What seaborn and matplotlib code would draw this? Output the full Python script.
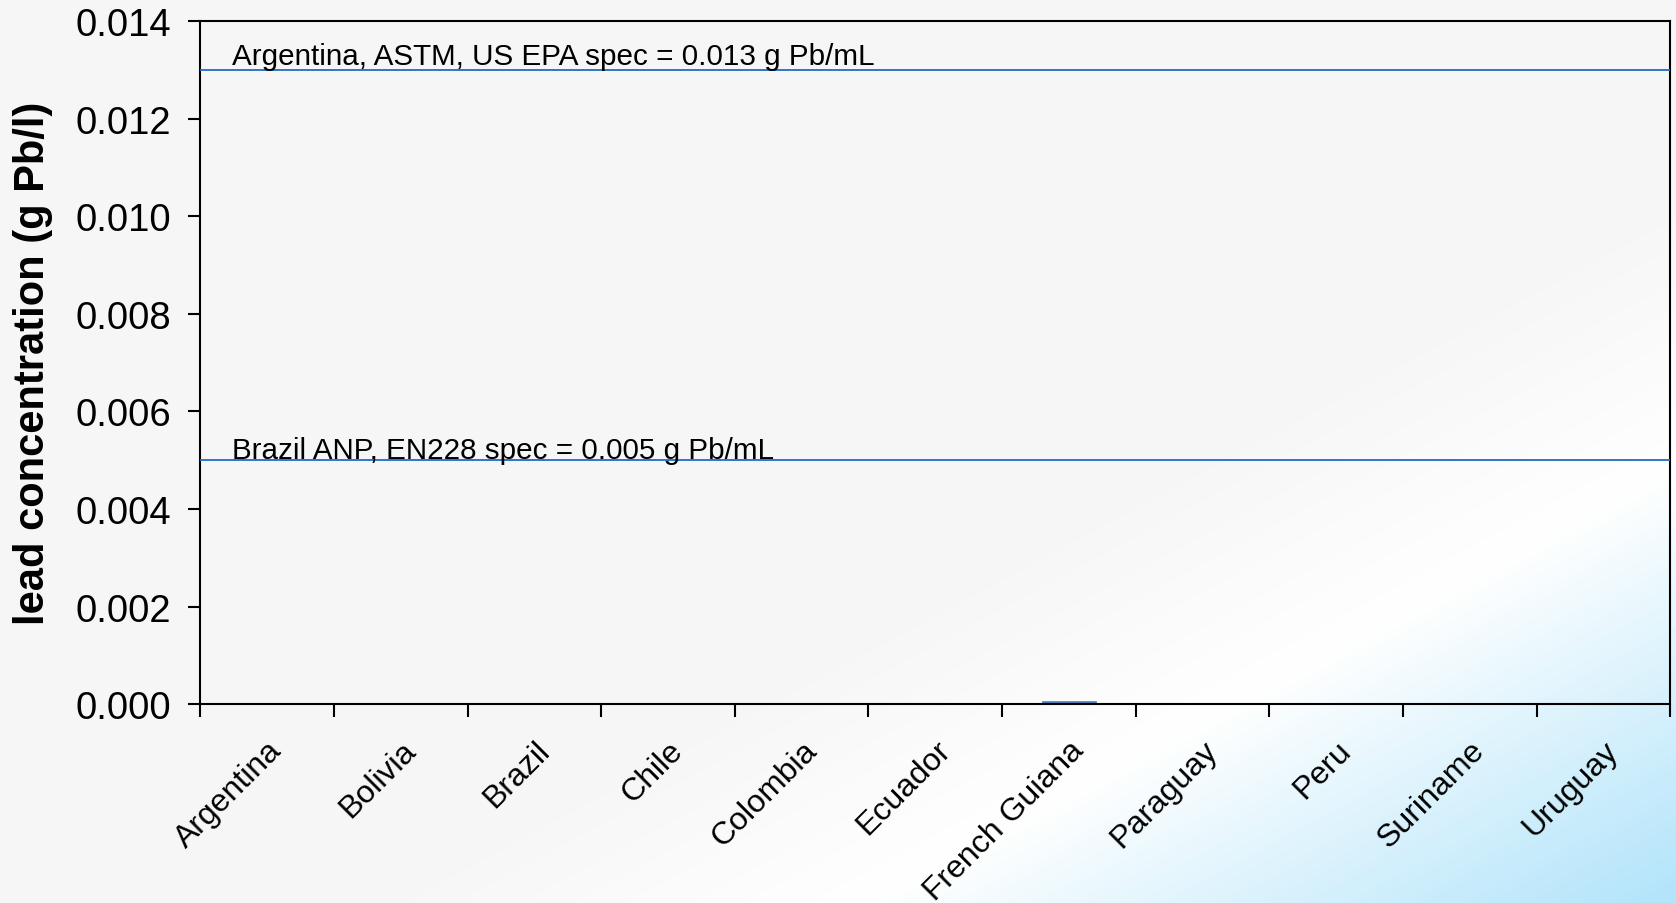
# Lead concentration in gasoline - South America
import numpy as np
import pandas as pd
import matplotlib
matplotlib.use("Agg")
import matplotlib.pyplot as plt
from matplotlib.colors import LinearSegmentedColormap
import seaborn as sns

# ---- data ----
countries = ["Argentina", "Bolivia", "Brazil", "Chile", "Colombia", "Ecuador",
             "French Guiana", "Paraguay", "Peru", "Suriname", "Uruguay"]
lead_values = [0.0, 0.0, 0.0, 0.0, 0.0, 0.0, 0.00006, 0.0, 0.0, 0.0, 0.0]

spec_levels = [0.013, 0.005]
spec_labels = ["Argentina, ASTM, US EPA spec = 0.013 g Pb/mL",
               "Brazil ANP, EN228 spec = 0.005 g Pb/mL"]
label_offsets = [0.00012, 0.00004]

y_ticks = [0.000, 0.002, 0.004, 0.006, 0.008, 0.010, 0.012, 0.014]

# ---- style ----
sns.set_style("ticks", {"text.color": "black", "axes.labelcolor": "black",
                        "xtick.color": "black", "ytick.color": "black"})
plt.rcParams["font.family"] = ["Liberation Sans", "DejaVu Sans"]

fig = plt.figure(figsize=(16.76, 9.04), dpi=100)

# background gradient: grey -> white -> light blue towards bottom right
bg = fig.add_axes([0, 0, 1, 1], zorder=-10)
u = np.linspace(0, 1, 400)
v = np.linspace(0, 1, 220)
U, V = np.meshgrid(u, v)
s = U + V
cmap = LinearSegmentedColormap.from_list(
    "bg", [(0.0, "#f6f6f6"), (0.62, "#f7f7f7"), (0.76, "#ffffff"), (1.0, "#b2e4fa")])
bg.imshow(s, cmap=cmap, vmin=0, vmax=2, aspect="auto", origin="upper",
          extent=[0, 1, 0, 1], interpolation="bilinear")
bg.set_axis_off()

ax = fig.add_axes([0.1195, 0.22, 0.877, 0.7555])
ax.set_facecolor("none")

df = pd.DataFrame({"country": countries, "lead": lead_values})
sns.barplot(data=df, x="country", y="lead", ax=ax, color="#4f81bd",
            width=0.4, saturation=1, edgecolor="#4f81bd", linewidth=0.5)

for level, label, off in zip(spec_levels, spec_labels, label_offsets):
    ax.axhline(level, color="#1f6cc0", lw=1.3, zorder=3)
    ax.text(-0.26, level + off, label, fontsize=21.3, color="black",
            va="baseline", ha="left", zorder=4)

ax.set_xlim(-0.5, len(countries) - 0.5)
ax.set_ylim(0, 0.014)
ax.set_yticks(y_ticks)
ax.set_yticklabels([f"{t:.3f}" for t in y_ticks], fontsize=27.5)

# ticks at category boundaries, labels at centres
ax.set_xticks(np.arange(len(countries) + 1) - 0.5)
ax.set_xticklabels([])
ax.set_xticks(np.arange(len(countries)), minor=True)
ax.set_xticklabels(countries, minor=True, rotation=45, ha="right",
                   rotation_mode="anchor", fontsize=23)
ax.tick_params(axis="x", which="minor", length=0, pad=22)
ax.tick_params(axis="both", which="major", length=9, width=1.5, color="black",
               direction="out")
ax.tick_params(axis="y", pad=12)

for side in ["left", "right", "top", "bottom"]:
    ax.spines[side].set_visible(True)
    ax.spines[side].set_color("black")
    ax.spines[side].set_linewidth(1.5)

ax.set_xlabel("")
ax.set_ylabel("lead concentration (g Pb/l)", fontsize=30, fontweight="bold",
              labelpad=16)

fig.savefig("out.png", dpi=100)
